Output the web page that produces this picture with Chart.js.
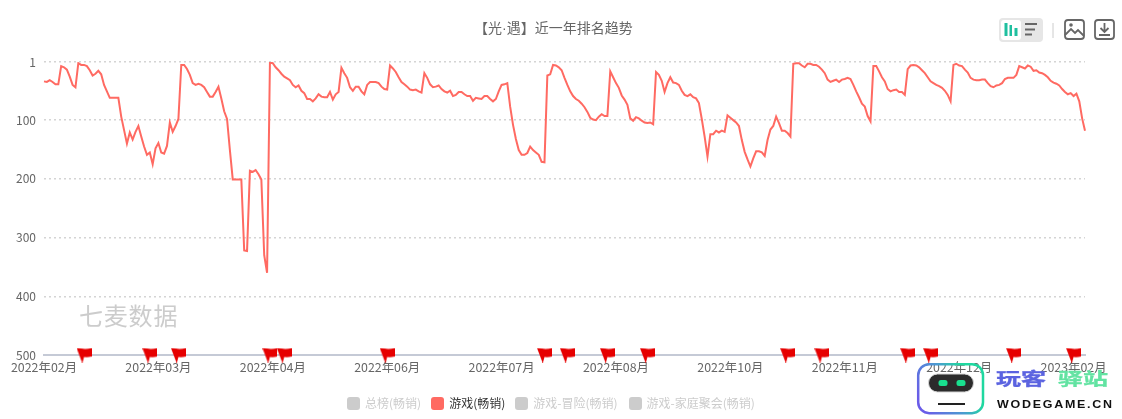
<!DOCTYPE html>
<html lang="zh-CN">
<head>
<meta charset="UTF-8" />
<title>【光·遇】近一年排名趋势</title>
<script src="https://cdn.jsdelivr.net/npm/chart.js"></script>
<style>
  body { margin: 0; background: #fff; font-family: "Noto Sans CJK SC", sans-serif; }
  #wrap { position: relative; width: 1122px; height: 419px; overflow: hidden; }
  canvas { position: absolute; left: 0; top: 0; }
  #title { position: absolute; left: 474px; top: 18px; font-family: "Liberation Sans", "Noto Sans CJK SC", sans-serif; font-size: 14px; line-height: 20px; color: #666; white-space: nowrap; }
  #mark { position: absolute; left: 79px; top: 299px; font-size: 24px; line-height: 32px; color: #ccc; letter-spacing: 0.8px; }
  #legend { position: absolute; left: 347px; top: 395px; display: flex; font-size: 12px; line-height: 16px; color: #ccc; }
  #legend span { display: flex; align-items: center; margin-right: 10px; white-space: nowrap; }
  #legend span:nth-child(3) { margin-right: 11px; }
  #legend i { width: 13px; height: 13px; border-radius: 3px; background: #ccc; margin-right: 5px; }
  #legend .on { color: #333; }
  #legend .on i { background: #ff6a62; }
  svg { position: absolute; left: 0; top: 0; pointer-events: none; }
</style>
</head>
<body>
<div id="wrap">
  <canvas id="rankChart" width="1122" height="419"></canvas>
  <div id="title">【光·遇】近一年排名趋势</div>
  <div id="mark">七麦数据</div>
  <div id="legend"></div>
  <svg width="1122" height="419">
    <!-- toolbar -->
    <rect x="999" y="18" width="44" height="24" rx="4" fill="#e6e6e6" />
    <rect x="1001" y="20" width="20" height="20" rx="3" fill="#fff" />
    <g fill="#1fbf9f">
      <rect x="1004.5" y="23" width="3" height="13" /><rect x="1009.5" y="25" width="2.5" height="11" /><rect x="1014.5" y="28" width="3" height="8" />
    </g>
    <g stroke="#666" stroke-width="2">
      <line x1="1025" y1="24" x2="1037" y2="24" /><line x1="1025" y1="29.5" x2="1035" y2="29.5" /><line x1="1025" y1="34.5" x2="1032" y2="34.5" />
    </g>
    <line x1="1053" y1="23" x2="1053" y2="38" stroke="#ccc" />
    <g fill="none" stroke="#666" stroke-width="1.8">
      <rect x="1065" y="20" width="19" height="19" rx="3" />
      <path d="M1065 35l6-6 4 4 3-3 6 6" />
      <rect x="1095" y="20" width="19" height="19" rx="3" />
      <path d="M1104.5 23v9M1100.5 28l4 4 4-4M1099 35h11" />
    </g>
    <circle cx="1071" cy="25" r="1.8" fill="#666" />
    <!-- logo -->
    <defs>
      <linearGradient id="logoEdge" x1="0" y1="0.7" x2="1" y2="0.3">
        <stop offset="0" stop-color="#6a5ce8" /><stop offset="0.5" stop-color="#4a9cd0" /><stop offset="0.8" stop-color="#1fd8a0" />
      </linearGradient>
    </defs>
    <rect x="918.2" y="364.2" width="64.8" height="49" rx="11" fill="none" stroke="url(#logoEdge)" stroke-width="2.5" />
    <rect x="928.5" y="374" width="45" height="18" rx="9" fill="#2b2b2b" stroke="#d4d4d4" stroke-width="1" />
    <rect x="938.5" y="380" width="9" height="6" rx="2.5" fill="#19e08f" />
    <rect x="956.5" y="380" width="9" height="6" rx="2.5" fill="#19e08f" />
    <line x1="938" y1="404" x2="965" y2="404" stroke="#222" stroke-width="2" />
    <g transform="translate(0 385) scale(1 0.68)" font-size="25" font-weight="700" stroke-width="0.5">
      <text x="996" y="0" fill="#5b63e0" stroke="#5b63e0">玩客</text>
      <text x="1058" y="0" fill="#62e3a2" stroke="#62e3a2">驿站</text>
    </g>
    <g transform="translate(997 408) scale(1.25 1)">
      <text x="0" y="0" font-family="Liberation Sans" font-size="10" font-weight="700" fill="#111" textLength="92">WODEGAME.CN</text>
    </g>
  </svg>
</div>

<script>
  // rank per day
  const rank = [
    34,35,32,35,39,39,8,10,14,26,40,44,3,6,6,8,15,24,21,16,22,40,51,62,62,62,62,94,117,140,
    121,133,120,110,128,145,159,155,175,148,139,155,157,144,104,120,110,98,6,6,13,23,37,40,38,40,44,52,60,60,
    52,43,63,85,98,151,201,201,201,201,322,323,186,188,185,192,201,330,360,2,3,10,15,21,26,29,32,40,44,41,
    50,54,64,64,68,63,56,60,61,61,52,65,56,52,11,20,28,44,50,43,43,51,56,40,35,35,35,37,43,47,
    48,7,12,18,27,35,39,43,48,49,48,51,53,20,28,39,44,43,41,47,51,53,50,59,57,52,52,56,59,59,
    67,62,63,64,59,59,64,68,64,51,40,39,37,77,108,132,151,159,159,156,145,151,155,159,171,172,24,22,6,7,
    10,15,28,40,51,59,64,67,72,78,86,96,99,100,94,90,93,93,17,27,37,45,58,65,74,97,101,95,97,101,
    104,105,104,107,18,23,33,52,37,27,36,37,40,50,57,59,56,61,63,71,98,128,162,124,124,118,121,118,120,92,
    96,100,104,110,134,154,167,179,165,153,153,155,161,134,116,110,94,105,118,118,122,128,4,3,3,7,10,4,4,6,
    6,9,14,20,31,35,33,31,35,31,30,28,30,40,51,61,72,77,93,102,8,8,17,27,34,47,51,49,48,52,
    52,57,13,7,6,7,10,15,20,27,34,37,40,42,45,50,57,68,6,4,7,8,14,19,28,31,32,32,31,31,
    37,42,44,41,40,37,30,28,28,28,23,8,10,12,7,9,16,15,19,20,23,27,33,36,38,41,47,52,56,54,
    59,55,68,97,118
  ];

  // days that carry a red flag on the axis
  const flagDays = [14,37,47,79,84,120,175,183,197,211,260,272,302,310,339,360];

  const xTickLabels = ['2022年02月','2022年03月','2022年04月','2022年06月','2022年07月','2022年08月','2022年10月','2022年11月','2022年12月','2023年02月'];
  const xTickStep = 40;
  const yTicks = [1,100,200,300,400,500];
  const legendNames = ['总榜(畅销)','游戏(畅销)','游戏-冒险(畅销)','游戏-家庭聚会(畅销)'];
  const activeLegend = '游戏(畅销)';

  const days = rank.map((_, i) => i);

  document.getElementById('legend').innerHTML = legendNames.map(name =>
    `<span class="${name === activeLegend ? 'on' : ''}"><i></i>${name}</span>`).join('');

  // flag marker
  const flag = document.createElement('canvas');
  flag.width = 15;
  flag.height = 15;
  const f = flag.getContext('2d');
  f.fillStyle = '#e60000';
  f.beginPath();
  f.moveTo(0, 0.5);
  f.lineTo(5, 1);
  f.quadraticCurveTo(9, 2, 15, 0.5);
  f.lineTo(15, 9);
  f.quadraticCurveTo(11, 10, 7.5, 9.5);
  f.lineTo(6, 15);
  f.lineTo(5.5, 15);
  f.closePath();
  f.fill();

  const ctx = document.getElementById('rankChart').getContext('2d');

  new Chart(ctx, {
    type: 'line',
    data: {
      labels: days,
      datasets: [
        {
          label: 'flags',
          data: days.map(d => flagDays.includes(d) ? 500 : null),
          showLine: false,
          pointStyle: flag,
          clip: false
        },
        {
          label: activeLegend,
          data: rank,
          borderColor: '#ff6a62',
          borderWidth: 2,
          pointRadius: 0,
          tension: 0
        }
      ]
    },
    options: {
      responsive: false,
      animation: false,
      layout: { padding: { top: 62, right: 37, bottom: 34 } },
      plugins: { legend: { display: false }, title: { display: false }, tooltip: { enabled: false } },
      scales: {
        x: {
          afterFit: s => { s.height = 30; },
          grid: { display: false },
          border: { color: '#c5cad6', width: 2 },
          ticks: {
            autoSkip: false,
            maxRotation: 0,
            minRotation: 0,
            padding: -3,
            color: '#666',
            font: { size: 12.4, family: '"Noto Sans CJK SC"' },
            callback: function(value) {
              return value % xTickStep === 0 ? xTickLabels[value / xTickStep] : '';
            }
          }
        },
        y: {
          reverse: true,
          min: 1,
          max: 500,
          afterFit: s => { s.width = 44; },
          afterBuildTicks: s => { s.ticks = yTicks.map(v => ({ value: v })); },
          grid: { color: '#d4d4d4', lineWidth: 1.5, drawTicks: false },
          border: { display: false, dash: [2, 3] },
          ticks: {
            padding: 8,
            color: '#666',
            font: { size: 12, family: '"Noto Sans CJK SC"' }
          }
        }
      }
    }
  });
</script>
</body>
</html>
